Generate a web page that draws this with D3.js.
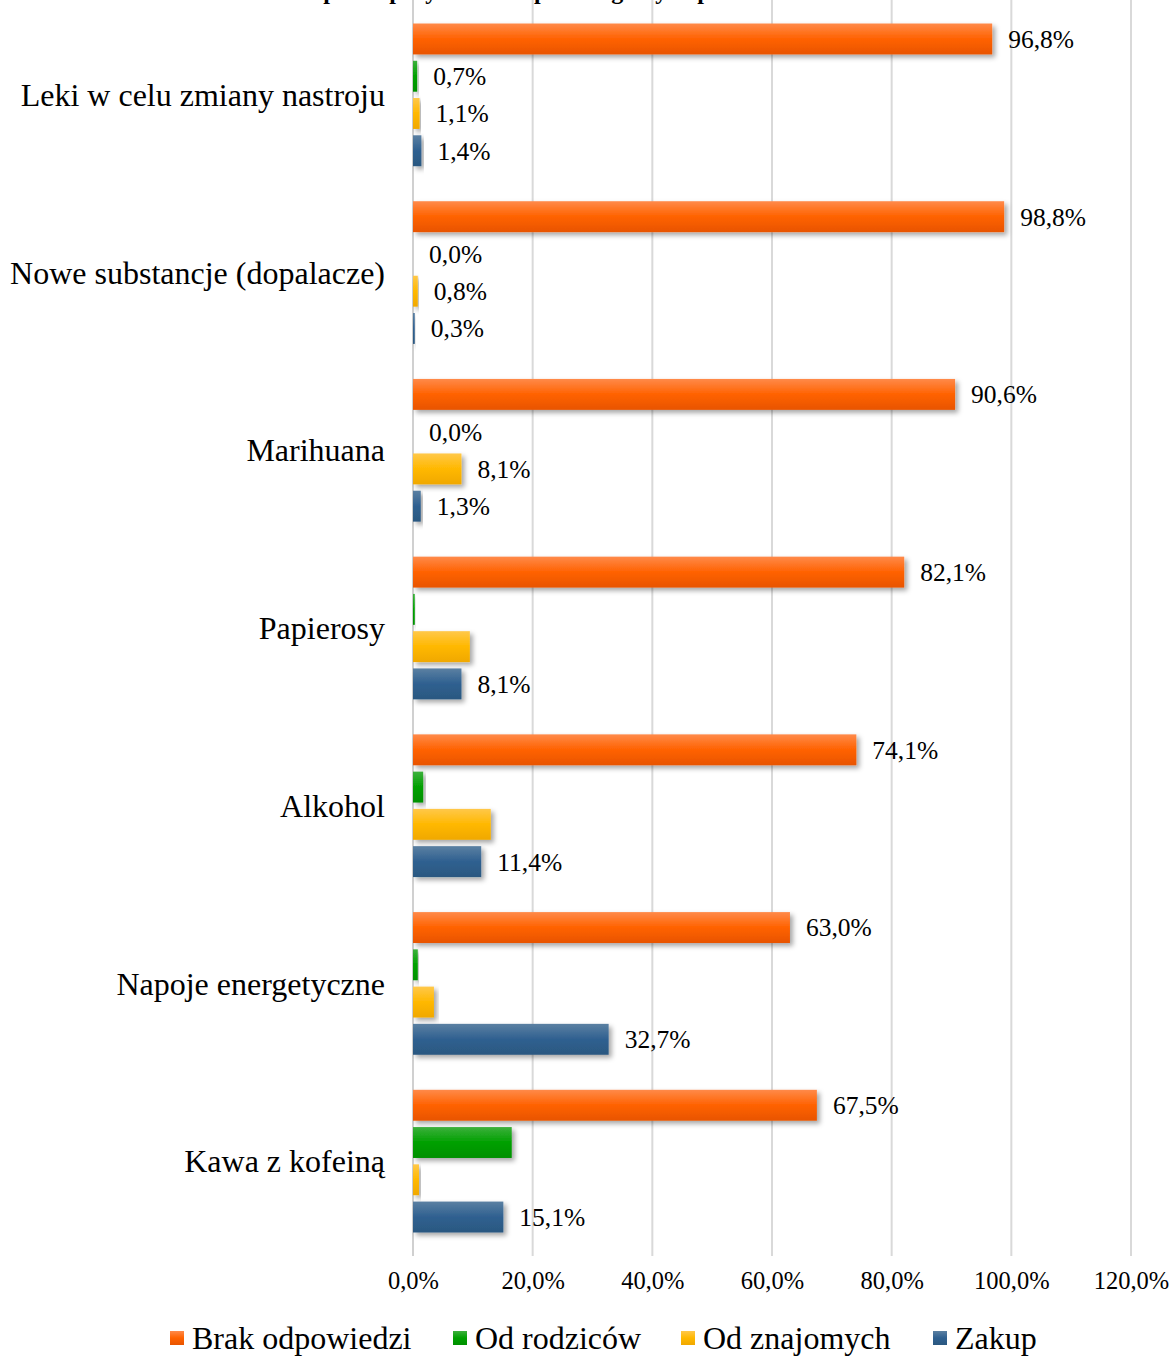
<!DOCTYPE html>
<html><head><meta charset="utf-8">
<script src="https://cdn.jsdelivr.net/npm/d3@7"></script>
<style>
html,body{margin:0;padding:0;background:#fff;}
svg{display:block;font-family:"Liberation Serif","Times New Roman",serif;}
</style></head>
<body>
<svg id="c" width="1175" height="1356"></svg>
<script>
const categories = ["Leki w celu zmiany nastroju","Nowe substancje (dopalacze)","Marihuana","Papierosy","Alkohol","Napoje energetyczne","Kawa z kofeiną"];
const seriesNames = ["Brak odpowiedzi","Od rodziców","Od znajomych","Zakup"];
const brak     = [96.8, 98.8, 90.6, 82.1, 74.1, 63.0, 67.5];
const rodzice  = [0.7, 0.0, 0.0, 0.3, 1.7, 0.8, 16.5];
const znajomi  = [1.1, 0.8, 8.1, 9.5, 13.0, 3.5, 1.0];
const zakup    = [1.4, 0.3, 1.3, 8.1, 11.4, 32.7, 15.1];
const showBrak    = [1,1,1,1,1,1,1];
const showRodzice = [1,1,1,0,0,0,0];
const showZnajomi = [1,1,1,0,0,0,0];
const showZakup   = [1,1,1,1,1,1,1];
const xTicks = [0,20,40,60,80,100,120];
const colors = ["#FF6200","#00A000","#FFB800","#2F6090"];
const topColors = ["#FF8A4A","#3DB03D","#FFC84A","#5B80A2"];
const botColors = ["#E85400","#009000","#F0A800","#2B5880"];
const titleText = "Sposób pozyskiwania poszczególnych produktów";

const values = [brak, rodzice, znajomi, zakup];
const shows = [showBrak, showRodzice, showZnajomi, showZakup];
const fmt = v => d3.format(".1f")(v).replace(".", ",") + "%";

const svg = d3.select("#c");
const defs = svg.append("defs");
const f = defs.append("filter").attr("id","sh").attr("x","-10%").attr("y","-30%").attr("width","130%").attr("height","180%");
f.append("feDropShadow").attr("dx",3).attr("dy",3).attr("stdDeviation",2.5).attr("flood-color","#000").attr("flood-opacity",0.35);
seriesNames.forEach((s,i)=>{
  const g = defs.append("linearGradient").attr("id","g"+i).attr("x1",0).attr("y1",0).attr("x2",0).attr("y2",1);
  g.append("stop").attr("offset","0%").attr("stop-color",topColors[i]);
  g.append("stop").attr("offset","50%").attr("stop-color",colors[i]);
  g.append("stop").attr("offset","100%").attr("stop-color",botColors[i]);
});

const x = d3.scaleLinear().domain([0,120]).range([413,1131]);
const y0 = d3.scaleBand().domain(categories).range([6,1250]).paddingInner(0).paddingOuter(0);
const y1 = d3.scaleBand().domain(seriesNames).range([0,y0.bandwidth()]).paddingInner(0.17).paddingOuter(0.47);

// title (mostly cropped, as in the reference)
svg.append("text").attr("x",560).attr("y",-1).attr("text-anchor","middle")
  .attr("font-weight","bold").attr("font-size",24).attr("fill","#000").text(titleText);

// gridlines
svg.append("g").selectAll("line").data(xTicks.filter(d=>d>0)).join("line")
  .attr("x1",d=>x(d)).attr("x2",d=>x(d)).attr("y1",0).attr("y2",1256)
  .attr("stroke","#D9D9D9").attr("stroke-width",2);
// axis line
svg.append("line").attr("x1",x(0)).attr("x2",x(0)).attr("y1",0).attr("y2",1256)
  .attr("stroke","#D0D0D0").attr("stroke-width",2);

// x axis labels
const xa = svg.append("g").attr("transform","translate(0,1281)")
  .call(d3.axisBottom(x).tickValues(xTicks).tickSize(0).tickPadding(0).tickFormat(fmt));
xa.select(".domain").remove();
xa.selectAll("text").attr("font-size",24.5).attr("font-family","Liberation Serif, Times New Roman, serif")
  .attr("fill","#000").attr("dy","0.32em");

// category labels
svg.append("g").selectAll("text").data(categories).join("text")
  .attr("x",385).attr("y",d=>y0(d)+y0.bandwidth()/2).attr("dy","0.35em")
  .attr("text-anchor","end").attr("font-size",32).attr("fill","#000").text(d=>d);

// bars
const rows = [];
categories.forEach((c,ci)=>{
  seriesNames.forEach((s,si)=>{
    rows.push({c, s, si, v: values[si][ci], show: shows[si][ci]});
  });
});
svg.append("g").selectAll("rect").data(rows).join("rect")
  .attr("x",x(0)).attr("y",d=>y0(d.c)+y1(d.s))
  .attr("width",d=>Math.max(0,x(d.v)-x(0))).attr("height",y1.bandwidth())
  .attr("fill",d=>"url(#g"+d.si+")").attr("filter",d=>d.v>0?"url(#sh)":null);

// data labels
svg.append("g").selectAll("text").data(rows.filter(d=>d.show)).join("text")
  .attr("x",d=>x(d.v)+16).attr("y",d=>y0(d.c)+y1(d.s)+y1.bandwidth()/2).attr("dy","0.35em")
  .attr("font-size",25.5).attr("fill","#000").text(d=>fmt(d.v));

// legend
const legX = [170,453,681,933];
const lg = svg.append("g").selectAll("g").data(seriesNames).join("g")
  .attr("transform",(d,i)=>`translate(${legX[i]},1338)`);
lg.append("rect").attr("x",0).attr("y",-7).attr("width",14).attr("height",14).attr("fill",(d,i)=>"url(#g"+i+")");
lg.append("text").attr("x",22).attr("y",0).attr("dy","0.35em").attr("font-size",32).attr("fill","#000").text(d=>d);
</script>
</body></html>
